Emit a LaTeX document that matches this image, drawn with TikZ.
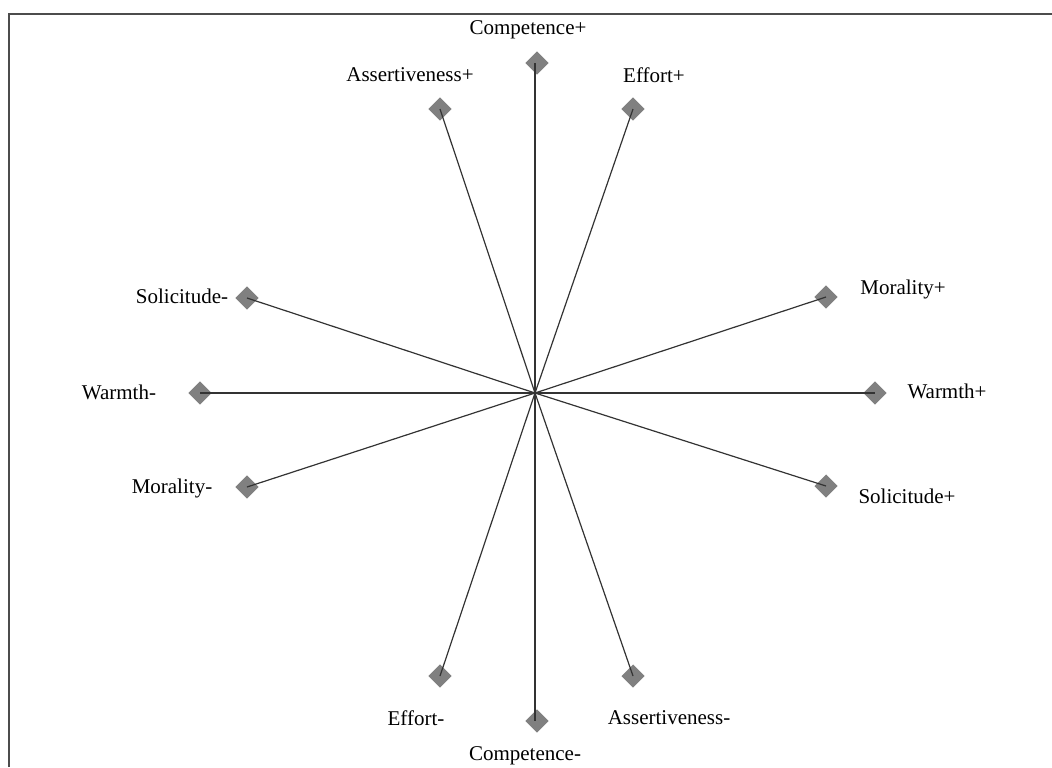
\documentclass[tikz,border=0pt]{standalone}
\usepackage{fontspec}
\setmainfont{Liberation Serif}
\usetikzlibrary{shapes.geometric}
\begin{document}
\begin{tikzpicture}[x=0.5pt,y=-0.5pt,
  dia/.style={diamond,aspect=1,fill=black!50,inner sep=0pt,minimum width=11.7pt,minimum height=11.7pt},
  spoke/.style={draw=black!80,line width=0.6pt},
  lab/.style={font=\fontsize{10.5pt}{12pt}\selectfont,inner sep=0pt,anchor=center}]
\useasboundingbox (0,0) rectangle (1052,767);
\draw[draw=black!70,line width=1pt] (8.5,767) -- (8.5,13.5) -- (1052,13.5);
\coordinate (c) at (535,393);
\node[dia] (cp) at (537,63) {};
\node[dia] (cm) at (537,721) {};
\node[dia] (wp) at (875,393) {};
\node[dia] (wm) at (200,393) {};
\node[dia] (ep) at (633,109) {};
\node[dia] (ap) at (440,109) {};
\node[dia] (mp) at (826,297) {};
\node[dia] (sm) at (247,298) {};
\node[dia] (sp) at (826,486) {};
\node[dia] (mm) at (247,487) {};
\node[dia] (em) at (440,676) {};
\node[dia] (am) at (633,676) {};
\draw[spoke] (c) -- ([xshift=-1pt]cp.center);
\draw[spoke] (c) -- ([xshift=-1pt]cm.center);
\foreach \n in {wp,wm,ep,ap,mp,sm,sp,mm,em,am}
  \draw[spoke] (c) -- (\n.center);
\node[lab] (lcp) at (528,30) {Competence+};
\node[lab] (lap) at (410,75) {Assertiveness+};
\node[lab] (lep) at (654,75) {Effort+};
\node[lab] (lsm) at (182,296) {Solicitude-};
\node[lab] (lmp) at (903,289) {Morality+};
\node[lab] (lwm) at (119,392) {Warmth-};
\node[lab] (lwp) at (947,391) {Warmth+};
\node[lab] (lmm) at (172,488) {Morality-};
\node[lab] (lsp) at (907,496) {Solicitude+};
\node[lab] (lem) at (416,718) {Effort-};
\node[lab] (lam) at (669,718) {Assertiveness-};
\node[lab] (lcm) at (525,756) {Competence-};
\end{tikzpicture}
\end{document}
